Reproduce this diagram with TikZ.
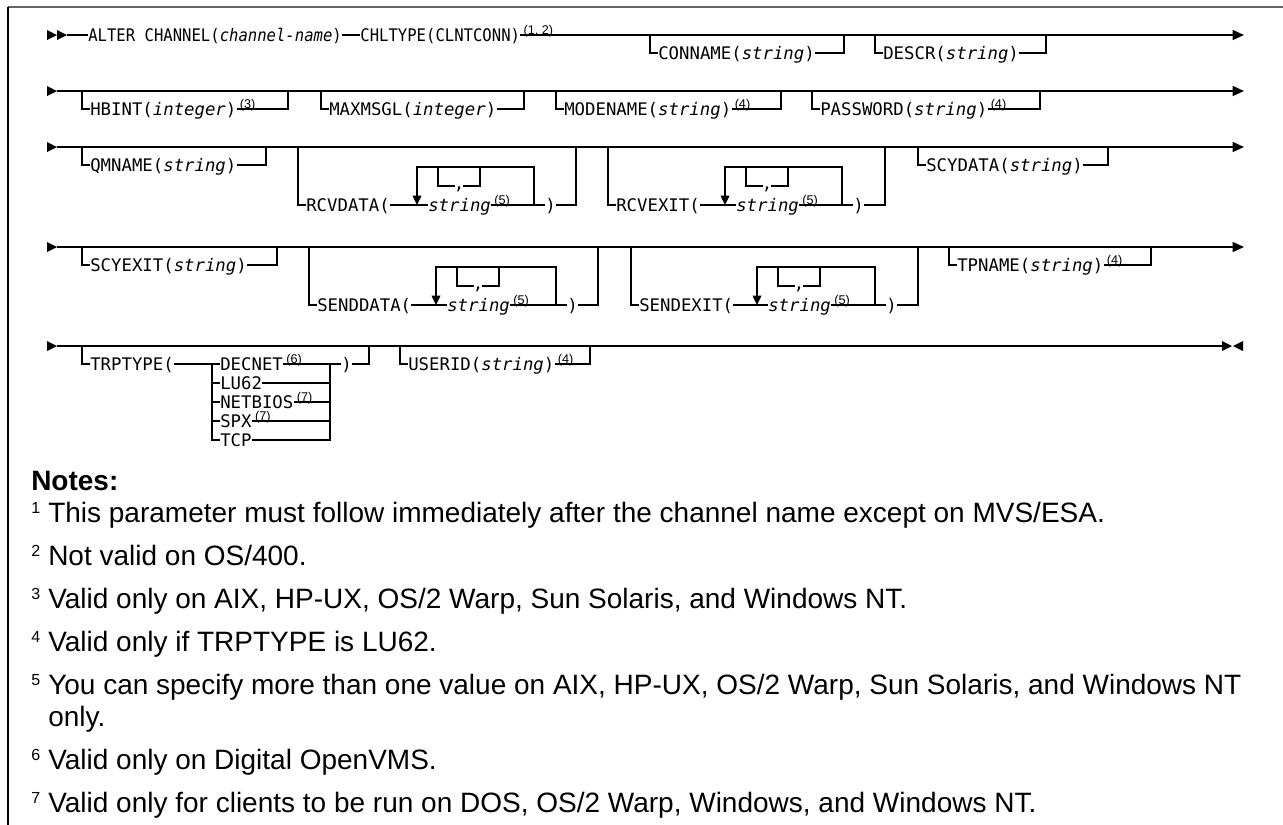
\documentclass[tikz,border=0pt]{standalone}
\usepackage{fontspec}
\setmainfont{Liberation Sans}
\newfontfamily\railfont{DejaVu Sans Mono}
\newfontfamily\railnarrow[FakeStretch=0.9]{DejaVu Sans Mono}
\usetikzlibrary{arrows.meta,calc}

\tikzset{
  rail/.style={line width=1pt, draw=black},
  kw/.style={font=\railfont\fontsize{13}{15}\selectfont, inner sep=0pt,
             text height=9.5pt, text depth=0.02pt, anchor=west},
  kwn/.style={kw, font=\railnarrow\fontsize{13}{15}\selectfont},
  commamark/.style={font=\railfont\fontsize{13}{15}\selectfont, inner sep=0pt, anchor=north},
  fn/.style={font=\fontsize{9.5}{11}\selectfont, inner sep=0pt, anchor=base west},
  looparrow/.style={rail, -{Triangle[length=7pt,width=6.5pt]}},
  endarrow/.style={rail, -{Triangle[length=8.5pt,width=7.5pt]}},
  head/.style={font=\bfseries\fontsize{21}{24}\selectfont, inner sep=0pt, anchor=base west},
  note/.style={font=\fontsize{21}{24}\selectfont, inner sep=0pt, anchor=base west},
  notemark/.style={font=\fontsize{12}{13}\selectfont, inner sep=0pt, anchor=base west},
}

% optional item hanging below a rail: name, rail y, in x, out x, text, footnote
\newcommand\optitem[6]{%
  \coordinate (#1-in) at (#3,#2);
  \coordinate (#1-out) at (#4,#2);
  \node[kw] (#1) at (#3+8,#2+18) {#5};
  \draw[rail] (#1-in) |- (#1.west);
  \draw[rail] (#1.east) -| (#1-out);
  \if\relax\detokenize{#6}\relax\else
    \node[fn] (#1-n) at ($(#1.east)+(3,-1)$) {(#6)};
  \fi
}

% optional repeatable item: name, rail y, in x, keyword, loop left, loop right, paren x, out x
\newcommand\repitem[8]{%
  \coordinate (#1-in) at (#3,#2);
  \coordinate (#1-out) at (#8,#2);
  \coordinate (#1-tl) at (#5,#2+20);
  \coordinate (#1-tr) at (#6,#2+20);
  \coordinate (#1-bl) at (#5,#2+58);
  \coordinate (#1-br) at (#6,#2+58);
  \coordinate (#1-cl) at (#5+21,#2+20);
  \coordinate (#1-cr) at (#5+63,#2+20);
  \coordinate (#1-gl) at (#5+38,#2+39);
  \coordinate (#1-gr) at (#5+46,#2+39);
  \node[kw] (#1) at (#3+8,#2+58) {#4};
  \node[kw] (#1-s) at (#5+11,#2+58) {\textit{string}};
  \node[kw] (#1-p) at (#7,#2+58) {)};
  \node[fn] (#1-n) at ($(#1-s.east)+(3,-1)$) {(5)};
  \node[commamark] (#1-c) at (#5+42,#2+40) {,};
  \draw[rail] (#1-in) |- (#1.west);
  \draw[rail] (#1.east) -- (#1-s.west);
  \draw[rail] (#1-s.east) -- (#1-p.west);
  \draw[rail] (#1-p.east) -| (#1-out);
  \draw[looparrow] (#1-br) |- (#1-tl) -- (#1-bl);
  \draw[rail] (#1-cl) |- (#1-gl);
  \draw[rail] (#1-gr) -| (#1-cr);
}

\begin{document}
\begin{tikzpicture}[x=0.75pt,y=-0.75pt]
\useasboundingbox (0,0) rectangle (1283,825);

% frame
\draw[line width=1.8pt, draw=black!60] (8,7) -- (1283,7);
\draw[line width=1pt] (8,7) -- (8,825);

% ---- rail 1
\fill (47,30) -- (57,35) -- (47,40) -- cycle;
\fill (57,30) -- (67,35) -- (57,40) -- cycle;
\coordinate (r1-start) at (67,35);
\coordinate (r1-end) at (1244,35);
\node[kwn] (alter) at (88,35) {ALTER CHANNEL(\textit{channel-name})};
\node[kwn] (chl) at ($(alter.east)+(18,0)$) {CHLTYPE(CLNTCONN)};
\node[fn] (chl-n) at ($(chl.east)+(3,-1)$) {(1, 2)};
\draw[rail] (r1-start) -- (alter.west);
\draw[rail] (alter.east) -- (chl.west);
\draw[endarrow] (chl.east) -- (r1-end);
\optitem{conname}{35}{650}{844}{CONNAME(\textit{string})}{}
\optitem{descr}{35}{875}{1046}{DESCR(\textit{string})}{}

% ---- rail 2
\fill (47,86) -- (57,91) -- (47,96) -- cycle;
\coordinate (r2-start) at (57,91);
\coordinate (r2-end) at (1244,91);
\draw[endarrow] (r2-start) -- (r2-end);
\optitem{hbint}{91}{82}{288}{HBINT(\textit{integer})}{3}
\optitem{maxmsgl}{91}{321}{524}{MAXMSGL(\textit{integer})}{}
\optitem{modename}{91}{556}{781}{MODENAME(\textit{string})}{4}
\optitem{password}{91}{812}{1040}{PASSWORD(\textit{string})}{4}

% ---- rail 3
\fill (47,142) -- (57,147) -- (47,152) -- cycle;
\coordinate (r3-start) at (57,147);
\coordinate (r3-end) at (1244,147);
\draw[endarrow] (r3-start) -- (r3-end);
\optitem{qmname}{147}{82}{266}{QMNAME(\textit{string})}{}
\repitem{rcvdata}{147}{298}{RCVDATA(}{417}{534}{545}{576}
\repitem{rcvexit}{147}{608}{RCVEXIT(}{725}{842}{853}{885}
\optitem{scydata}{147}{918}{1108}{SCYDATA(\textit{string})}{}

% ---- rail 4
\fill (47,242) -- (57,247) -- (47,252) -- cycle;
\coordinate (r4-start) at (57,247);
\coordinate (r4-end) at (1244,247);
\draw[endarrow] (r4-start) -- (r4-end);
\optitem{scyexit}{247}{82}{277}{SCYEXIT(\textit{string})}{}
\repitem{senddata}{247}{309}{SENDDATA(}{436}{556}{567}{598}
\repitem{sendexit}{247}{631}{SENDEXIT(}{757}{875}{886}{918}
\optitem{tpname}{247}{949}{1151}{TPNAME(\textit{string})}{4}

% ---- rail 5
\fill (47,341) -- (57,346) -- (47,351) -- cycle;
\coordinate (r5-start) at (57,346);
\coordinate (r5-end) at (1222,346);
\draw[rail] (r5-start) -- (r5-end);
\fill (1222,341) -- (1232,346) -- (1222,351) -- cycle;
\fill (1243,341) -- (1233,346) -- (1243,351) -- cycle;

\coordinate (trp-in) at (82,346);
\coordinate (trp-out) at (369,346);
\coordinate (trp-sl) at (212,346);
\coordinate (trp-sr) at (330,346);
\node[kw] (trp) at (90,364) {TRPTYPE(};
\node[kw] (decnet) at (220,364) {DECNET};
\node[kw] (lu62) at (220,383) {LU62};
\node[kw] (netbios) at (220,402) {NETBIOS};
\node[kw] (spx) at (220,421) {SPX};
\node[kw] (tcp) at (220,440) {TCP};
\node[kw] (trp-p) at (341,364) {)};
\node[fn] (decnet-n) at ($(decnet.east)+(3,-1)$) {(6)};
\node[fn] (netbios-n) at ($(netbios.east)+(3,-1)$) {(7)};
\node[fn] (spx-n) at ($(spx.east)+(3,-1)$) {(7)};
\draw[rail] (trp-in) |- (trp.west);
\draw[rail] (trp.east) -- (decnet.west);
\draw[rail] (decnet.east) -- (trp-p.west);
\draw[rail] (trp-p.east) -| (trp-out);
\draw[rail] (decnet.west -| trp-sl) |- (tcp.west);
\draw[rail] (decnet.east -| trp-sr) |- (tcp.east);
\foreach \o in {lu62,netbios,spx}{
  \draw[rail] (\o.west -| trp-sl) -- (\o.west);
  \draw[rail] (\o.east) -- (\o.east -| trp-sr);
}
\optitem{userid}{346}{400}{590}{USERID(\textit{string})}{4}

% ---- notes
\node[head] (notes) at (31,490) {Notes:};
\node[notemark] (m1) at (31,513) {1};
\node[note] (n1) at (48,522) {This parameter must follow immediately after the channel name except on MVS/ESA.};
\node[notemark] (m2) at (31,556) {2};
\node[note] (n2) at (48,565) {Not valid on OS/400.};
\node[notemark] (m3) at (31,599) {3};
\node[note] (n3) at (48,608) {Valid only on AIX, HP-UX, OS/2 Warp, Sun Solaris, and Windows NT.};
\node[notemark] (m4) at (31,642) {4};
\node[note] (n4) at (48,651) {Valid only if TRPTYPE is LU62.};
\node[notemark] (m5) at (31,685) {5};
\node[note] (n5) at (48,694) {You can specify more than one value on AIX, HP-UX, OS/2 Warp, Sun Solaris, and Windows NT};
\node[note] (n5b) at (48,726) {only.};
\node[notemark] (m6) at (31,760) {6};
\node[note] (n6) at (48,769) {Valid only on Digital OpenVMS.};
\node[notemark] (m7) at (31,803) {7};
\node[note] (n7) at (48,812) {Valid only for clients to be run on DOS, OS/2 Warp, Windows, and Windows NT.};
\end{tikzpicture}
\end{document}
